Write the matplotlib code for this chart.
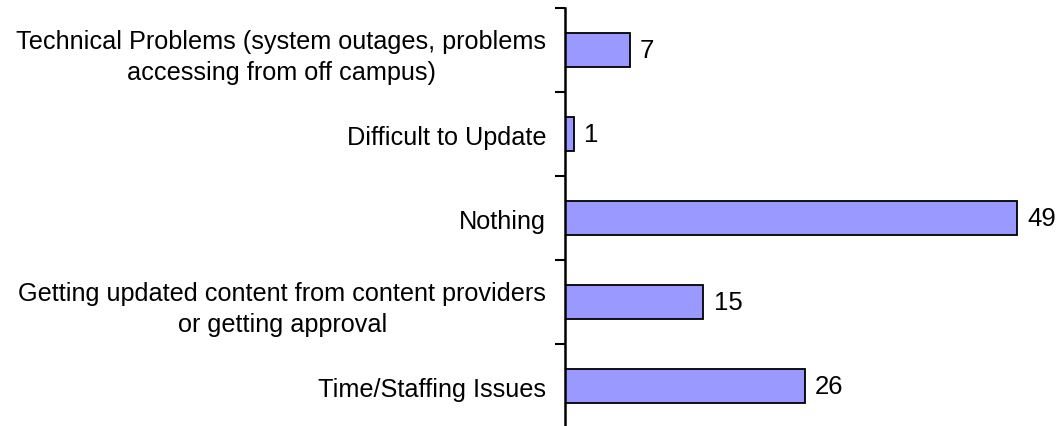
import numpy as np
import matplotlib.pyplot as plt

categories = [
    "Technical Problems (system outages, problems\naccessing from off campus)",
    "Difficult to Update",
    "Nothing",
    "Getting updated content from content providers\nor getting approval",
    "Time/Staffing Issues",
]
counts = [7, 1, 49, 15, 26]

plt.rcParams['font.family'] = ['Liberation Sans', 'DejaVu Sans']

fig = plt.figure(figsize=(10.64, 4.27), dpi=100)
ax = fig.add_axes([565 / 1064, 1 - 429 / 427, 1 - 565 / 1064, (429 - 9) / 427])

y = np.arange(len(categories))
ax.barh(y, counts, height=0.4, color='#9999ff', edgecolor='black', linewidth=1.3)

for yi, v in zip(y, counts):
    ax.text(v + 1.1, yi, str(v), va='center', ha='left', fontsize=18.5)

ax.set_ylim(len(categories) - 0.5, -0.5)
ax.set_xlim(0, 54.06)
ax.set_yticks(np.arange(len(categories) + 1) - 0.5)
ax.set_yticklabels([])
ax.set_yticks(y, minor=True)
ax.set_yticklabels(categories, minor=True, fontsize=18.2, ha='right',
                   multialignment='center', linespacing=1.4)
ax.tick_params(axis='y', which='minor', length=0, pad=13.5)
ax.tick_params(axis='y', which='major', length=7.2, width=1.5)
ax.set_xticks([])
for s in ['top', 'right', 'bottom']:
    ax.spines[s].set_visible(False)
ax.spines['left'].set_linewidth(1.8)

fig.savefig('out.png', dpi=100)
